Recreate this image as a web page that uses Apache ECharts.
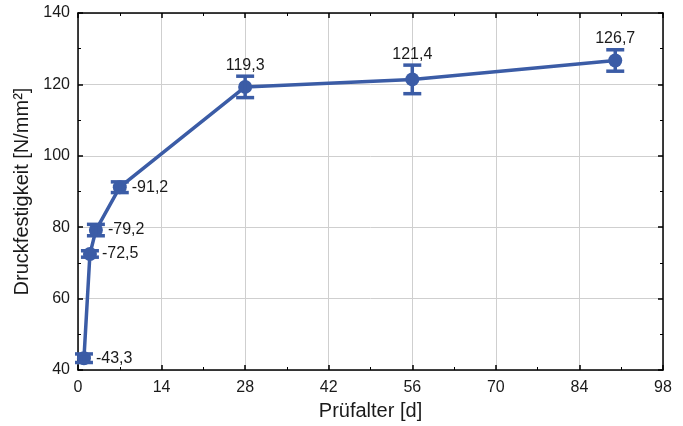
<!DOCTYPE html>
<html>
<head>
<meta charset="utf-8">
<script src="https://cdn.jsdelivr.net/npm/echarts@6/dist/echarts.min.js"></script>
<style>
  html, body { margin: 0; padding: 0; background: #fff; }
  #chart { width: 683px; height: 426px; }
</style>
</head>
<body>
<div id="chart"></div>
<script>
// Prüfalter in Tagen, Druckfestigkeit in N/mm², Standardabweichung
const ages = [1, 2, 3, 7, 28, 56, 90];
const strength = [43.3, 72.5, 79.2, 91.2, 119.3, 121.4, 126.7];
const deviation = [1.2, 0.9, 1.6, 1.5, 3.0, 4.0, 3.0];
const xTicks = [0, 14, 28, 42, 56, 70, 84, 98];
const yTicks = [40, 60, 80, 100, 120, 140];

const blue = "#3b5ca6";
const font = "Liberation Sans, Arial, sans-serif";

const chart = echarts.init(document.getElementById("chart"));

const fmt = (v) => String(v.toFixed(1)).replace(".", ",");

function frameAxis(extra) {
  return Object.assign({
    axisLine: { show: true, onZero: false, lineStyle: { color: "#000", width: 1.5 } },
    axisTick: { show: true, inside: true, length: 5, lineStyle: { color: "#000", width: 1.5 } },
    minorTick: { show: true, splitNumber: 2, length: 3, lineStyle: { color: "#000", width: 1 } },
    splitLine: { show: false },
    axisLabel: { show: false },
  }, extra);
}

const option = {
  backgroundColor: "#fff",
  animation: false,
  grid: { left: 78, right: 20, top: 13, bottom: 55 },
  xAxis: [
    frameAxis({
      type: "value",
      min: xTicks[0],
      max: xTicks[xTicks.length - 1],
      interval: 14,
      name: "Prüfalter [d]",
      nameLocation: "middle",
      nameGap: 31,
      nameTextStyle: { fontFamily: font, fontSize: 20, color: "#1a1a1a" },
      axisLabel: { show: true, margin: 10, fontFamily: font, fontSize: 16, color: "#1a1a1a" },
      splitLine: { show: true, lineStyle: { color: "#cfcfcf", width: 1 } },
    }),
    frameAxis({ type: "value", position: "top", min: 0, max: 98, interval: 14 }),
  ],
  yAxis: [
    frameAxis({
      type: "value",
      min: yTicks[0],
      max: yTicks[yTicks.length - 1],
      interval: 20,
      name: "Druckfestigkeit [N/mm²]",
      nameLocation: "middle",
      nameGap: 42,
      nameTextStyle: { fontFamily: font, fontSize: 20, color: "#1a1a1a" },
      axisLabel: { show: true, margin: 8, fontFamily: font, fontSize: 16, color: "#1a1a1a" },
      splitLine: { show: true, lineStyle: { color: "#cfcfcf", width: 1 } },
    }),
    frameAxis({ type: "value", position: "right", min: 40, max: 140, interval: 20 }),
  ],
  series: [
    {
      type: "line",
      data: ages.map((a, i) => [a, strength[i]]),
      symbol: "circle",
      symbolSize: 14,
      itemStyle: { color: blue },
      lineStyle: { color: blue, width: 3.5 },
      z: 3,
    },
    {
      type: "custom",
      data: ages.map((a, i) => [a, strength[i], deviation[i]]),
      z: 4,
      renderItem: (params, api) => {
        const x = api.value(0);
        const y = api.value(1);
        const d = api.value(2);
        const top = api.coord([x, y + d]);
        const bot = api.coord([x, y - d]);
        const mid = api.coord([x, y]);
        const cap = 9;
        const style = { stroke: blue, lineWidth: 3.5 };
        const children = [
          { type: "line", shape: { x1: top[0], y1: top[1], x2: bot[0], y2: bot[1] }, style },
          { type: "line", shape: { x1: top[0] - cap, y1: top[1], x2: top[0] + cap, y2: top[1] }, style },
          { type: "line", shape: { x1: bot[0] - cap, y1: bot[1], x2: bot[0] + cap, y2: bot[1] }, style },
        ];
        const early = x < 10;
        children.push({
          type: "text",
          style: early
            ? { text: "-" + fmt(y), x: mid[0] + 12, y: mid[1], align: "left", verticalAlign: "middle",
                font: "16px " + font, fill: "#1a1a1a" }
            : { text: fmt(y), x: top[0], y: top[1] - 3, align: "center", verticalAlign: "bottom",
                font: "16px " + font, fill: "#1a1a1a" },
        });
        return { type: "group", children };
      },
    },
  ],
};

chart.setOption(option);
</script>
</body>
</html>
